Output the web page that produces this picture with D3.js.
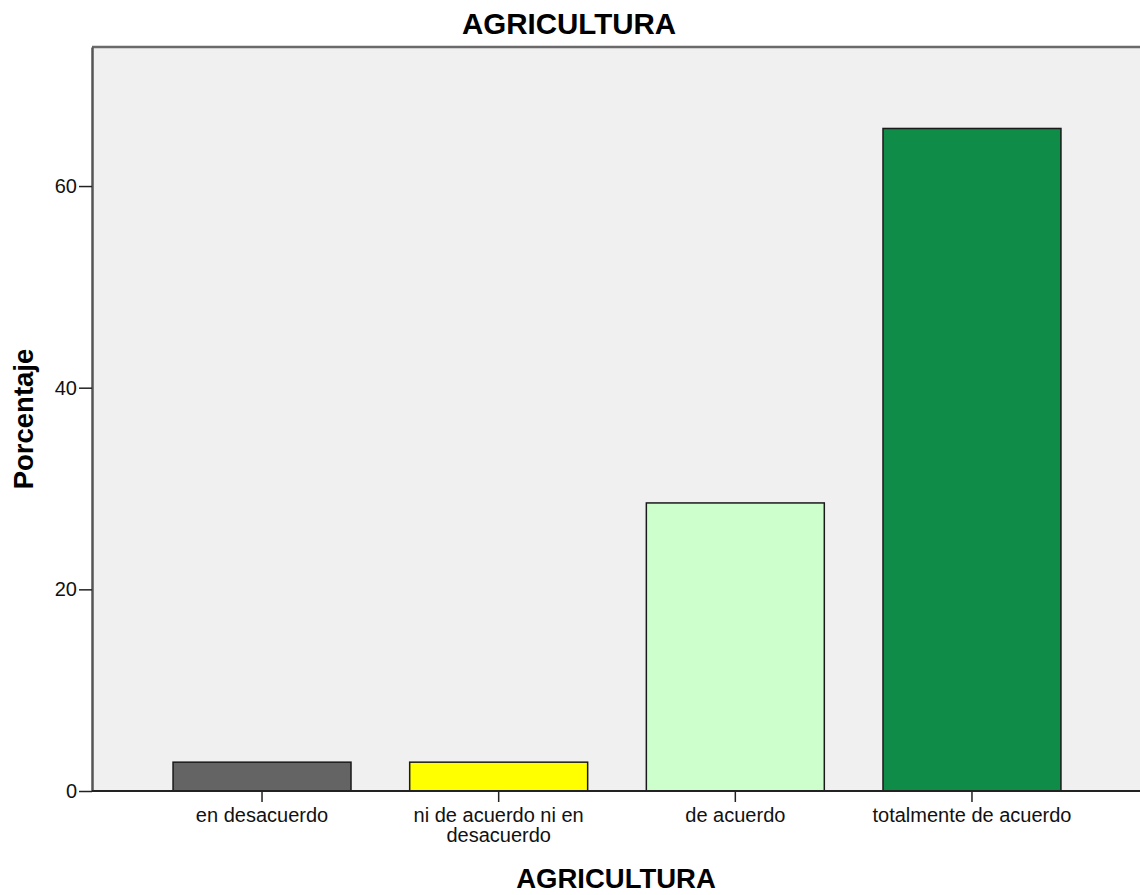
<!DOCTYPE html>
<html>
<head>
<meta charset="utf-8">
<script src="https://cdn.jsdelivr.net/npm/d3@7"></script>
<style>
  html, body { margin: 0; padding: 0; background: #ffffff; }
  svg { display: block; font-family: "Liberation Sans", Arial, sans-serif; }
</style>
</head>
<body>
<svg id="chart" width="1140" height="895"></svg>
<script>
// ---- data ----
const categories = ["en desacuerdo", "ni de acuerdo ni en desacuerdo", "de acuerdo", "totalmente de acuerdo"];
const percentages = [2.86, 2.86, 28.57, 65.71];
const barColors = ["#646464", "#ffff00", "#ccffcc", "#0f8c47"];
const yTicks = [0, 20, 40, 60];
const chartTitle = "AGRICULTURA";
const xTitle = "AGRICULTURA";
const yTitle = "Porcentaje";

// ---- layout ----
const W = 1140, H = 895;
const plot = { left: 92, right: 1140, top: 47, bottom: 791 };

const svg = d3.select("#chart");

const y = d3.scaleLinear().domain([0, 73.79]).range([plot.bottom, plot.top]);
const x = d3.scaleBand().domain(categories)
  .range([143.7, 1090.3]).paddingInner(0.248).paddingOuter(0.124);

// background
svg.append("rect")
  .attr("x", plot.left).attr("y", plot.top)
  .attr("width", plot.right - plot.left).attr("height", plot.bottom - plot.top)
  .attr("fill", "#f0f0f0");

// bars
svg.append("g").selectAll("rect").data(categories).join("rect")
  .attr("x", d => x(d))
  .attr("y", (d, i) => y(percentages[i]))
  .attr("width", x.bandwidth())
  .attr("height", (d, i) => y(0) - y(percentages[i]))
  .attr("fill", (d, i) => barColors[i])
  .attr("stroke", "#1a1a1a")
  .attr("stroke-width", 1.5);

// top frame line
svg.append("line")
  .attr("x1", plot.left).attr("x2", plot.right)
  .attr("y1", plot.top).attr("y2", plot.top)
  .attr("stroke", "#6a6a6a").attr("stroke-width", 2.5);

// y axis
const yAxis = svg.append("g")
  .attr("transform", `translate(${plot.left},0)`)
  .call(d3.axisLeft(y).tickValues(yTicks).tickSize(13).tickPadding(2).tickSizeOuter(0));
yAxis.select(".domain").attr("stroke", "#555555").attr("stroke-width", 2.5);
yAxis.selectAll(".tick line").attr("stroke", "#222").attr("stroke-width", 1.5);
yAxis.selectAll(".tick text")
  .attr("font-size", 20).attr("fill", "#111")
  .attr("font-family", "Liberation Sans, Arial, sans-serif");

// x axis
const xAxis = svg.append("g")
  .attr("transform", `translate(0,${plot.bottom})`)
  .call(d3.axisBottom(x).tickSize(11).tickPadding(6).tickSizeOuter(0));
xAxis.select(".domain")
  .attr("d", `M${plot.left},0H${plot.right}`)
  .attr("stroke", "#222").attr("stroke-width", 2);
xAxis.selectAll(".tick line").attr("stroke", "#222").attr("stroke-width", 1.5);
xAxis.selectAll(".tick text")
  .attr("font-size", 20).attr("fill", "#111")
  .attr("font-family", "Liberation Sans, Arial, sans-serif")
  .call(wrap, x.step());

function wrap(texts, width) {
  texts.each(function () {
    const t = d3.select(this);
    const words = t.text().split(/\s+/);
    const y0 = t.attr("y"), dy = t.attr("dy");
    t.text(null);
    let line = [];
    let tspan = t.append("tspan").attr("x", 0).attr("y", y0).attr("dy", dy);
    let lineNo = 0;
    for (const w of words) {
      line.push(w);
      tspan.text(line.join(" "));
      if (tspan.node().getComputedTextLength() > width && line.length > 1) {
        line.pop();
        tspan.text(line.join(" "));
        line = [w];
        lineNo++;
        tspan = t.append("tspan").attr("x", 0).attr("y", y0)
          .attr("dy", (0.71 + lineNo * 1.0) + "em").text(w);
      }
    }
  });
}

// titles
svg.append("text")
  .attr("x", 569).attr("y", 34)
  .attr("text-anchor", "middle")
  .attr("font-size", 29.5).attr("font-weight", "bold").attr("fill", "#000")
  .text(chartTitle);

svg.append("text")
  .attr("x", (plot.left + plot.right) / 2).attr("y", 888)
  .attr("text-anchor", "middle")
  .attr("font-size", 27.5).attr("font-weight", "bold").attr("fill", "#000")
  .text(xTitle);

svg.append("text")
  .attr("transform", `translate(33,${(plot.top + plot.bottom) / 2}) rotate(-90)`)
  .attr("text-anchor", "middle")
  .attr("font-size", 27.5).attr("font-weight", "bold").attr("fill", "#000")
  .text(yTitle);
</script>
</body>
</html>
